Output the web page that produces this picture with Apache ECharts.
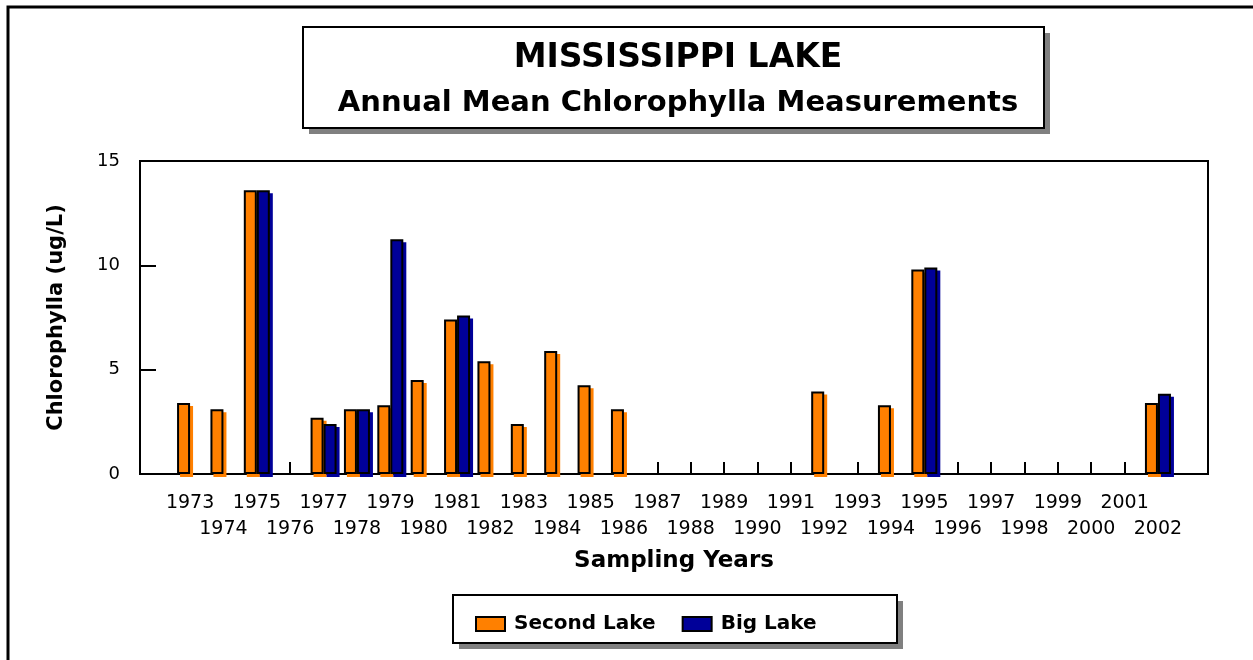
<!DOCTYPE html>
<html>
<head>
<meta charset="utf-8">
<script src="https://cdn.jsdelivr.net/npm/echarts@6/dist/echarts.min.js"></script>
<style>
  html, body { margin: 0; padding: 0; background: #fff; }
  #chart { width: 1253px; height: 660px; }
</style>
</head>
<body>
<div id="chart"></div>
<script>
// blank slot at each end, as in the original plot
const years = ['', '1973', '1974', '1975', '1976', '1977', '1978', '1979', '1980', '1981', '1982',
  '1983', '1984', '1985', '1986', '1987', '1988', '1989', '1990', '1991', '1992',
  '1993', '1994', '1995', '1996', '1997', '1998', '1999', '2000', '2001', '2002', '']

const secondLake = [null, 3.4, 3.1, 13.6, null, 2.7, 3.1, 3.3, 4.5, 7.4, 5.4,
  2.4, 5.9, 4.25, 3.1, null, null, null, null, null, 3.95,
  null, 3.3, 9.8, null, null, null, null, null, null, 3.4, null]

const bigLake = [null, null, null, 13.6, null, 2.4, 3.1, 11.25, null, 7.6, null,
  null, null, null, null, null, null, null, null, null, null,
  null, null, 9.9, null, null, null, null, null, null, 3.85, null]

const yTicks = [0, 5, 10, 15]

const ORANGE = '#ff8000'
const NAVY = '#000099'
const FONT = '"DejaVu Sans", sans-serif'

const chart = echarts.init(document.getElementById('chart'))

function barStyle(color) {
  return {
    color: color,
    borderColor: '#000',
    borderWidth: 2,
    shadowColor: color,
    shadowBlur: 0,
    shadowOffsetX: 3,
    shadowOffsetY: 3,
  }
}

// white box with a flat grey drop shadow
function box(x, y, w, h, off) {
  return [
    { type: 'rect', z: -6, shape: { x: x + off, y: y + off, width: w, height: h },
      style: { fill: '#808080' } },
    { type: 'rect', z: -5, shape: { x: x, y: y, width: w, height: h },
      style: { fill: '#fff', stroke: '#000', lineWidth: 2 } },
  ]
}

chart.setOption({
  animation: false,
  backgroundColor: '#fff',
  textStyle: { fontFamily: FONT },
  graphic: [
    // outer frame, runs off the right and bottom edges
    { type: 'rect', z: -10, shape: { x: 8, y: 7, width: 1300, height: 700 },
      style: { fill: '#fff', stroke: '#000', lineWidth: 3 } },
    ...box(303, 27, 741, 101, 6),
    ...box(453, 595, 444, 48, 6),
  ],
  title: [
    {
      text: 'MISSISSIPPI LAKE', left: 673, top: 37, textAlign: 'center',
      textStyle: { fontFamily: FONT, fontSize: 33, fontWeight: 'bold', color: '#000' },
    },
    {
      text: 'Annual Mean Chlorophylla Measurements', left: 673, top: 84, textAlign: 'center',
      textStyle: { fontFamily: FONT, fontSize: 29, fontWeight: 'bold', color: '#000' },
    },
  ],
  legend: {
    left: 470, top: 609,
    itemWidth: 29, itemHeight: 14, itemGap: 26,
    icon: 'rect',
    textStyle: { fontFamily: FONT, fontSize: 20, fontWeight: 'bold', color: '#000', padding: [0, 0, 0, 4] },
    data: ['Second Lake', 'Big Lake'],
  },
  grid: { left: 140, top: 161, right: 45, bottom: 186, show: true, borderColor: '#000', borderWidth: 2 },
  xAxis: {
    type: 'category',
    data: years,
    name: 'Sampling Years',
    nameLocation: 'middle',
    nameGap: 76,
    nameTextStyle: { fontFamily: FONT, fontSize: 23, fontWeight: 'bold', color: '#000' },
    axisLine: { lineStyle: { color: '#000', width: 2 } },
    axisTick: {
      show: true, inside: true, length: 12, alignWithLabel: true,
      interval: (i) => years[i] !== '',
      lineStyle: { color: '#000', width: 2 },
    },
    axisLabel: {
      interval: 0, margin: 16, fontFamily: FONT, fontSize: 19, color: '#000', lineHeight: 26,
      formatter: (v, i) => (i % 2 === 1 ? v : '\n' + v),
    },
  },
  yAxis: {
    type: 'value',
    min: yTicks[0], max: yTicks[yTicks.length - 1], interval: 5,
    name: 'Chlorophylla (ug/L)',
    nameLocation: 'middle',
    nameRotate: 90,
    nameGap: 73,
    nameTextStyle: { fontFamily: FONT, fontSize: 21, fontWeight: 'bold', color: '#000' },
    axisLine: { show: true, lineStyle: { color: '#000', width: 2 } },
    axisTick: { show: true, inside: true, length: 16, lineStyle: { color: '#000', width: 2 } },
    axisLabel: { margin: 20, fontFamily: FONT, fontSize: 18, color: '#000' },
    splitLine: { show: false },
  },
  series: [
    {
      name: 'Second Lake', type: 'bar', data: secondLake,
      barWidth: 13, barGap: '0%',
      itemStyle: barStyle(ORANGE),
    },
    {
      name: 'Big Lake', type: 'bar', data: bigLake,
      barWidth: 13, barGap: '0%',
      itemStyle: barStyle(NAVY),
    },
  ],
})
</script>
</body>
</html>
